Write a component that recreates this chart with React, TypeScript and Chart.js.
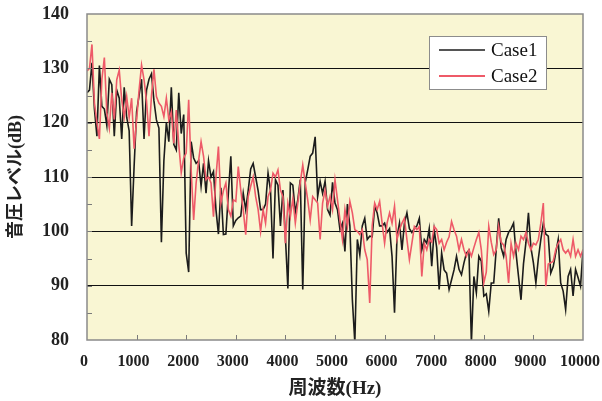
import React, { useEffect, useRef } from "react";
import { Chart, registerables } from "chart.js";

Chart.register(...registerables);

// Frequency spacing of the samples (Hz)
const FREQ_STEP = 50;

// Case1 sound pressure level (dB), 0 .. 10000 Hz every 50 Hz
const CASE1 = [
  125.5, 126, 131, 122.5, 117.5, 130.5, 123, 122.5, 119.5, 128,
  127, 117.5, 126, 124.5, 117, 126.5, 121, 118.5, 101, 112,
  122, 125, 128, 117, 126, 128, 129, 124, 120.5, 119,
  98, 113, 120, 116.5, 126.5, 116, 115, 125.5, 118, 121.5,
  96, 92.5, 116.5, 113.5, 112.5, 113, 108.3, 112.5, 107, 113,
  110, 111, 104, 99.5, 108, 99.4, 99.5, 107, 113.8, 101,
  102, 102.5, 102.8, 107, 104, 107.5, 111.5, 112.5, 110, 107.5,
  104, 104, 105, 110.7, 107.5, 95, 109.5, 108.5, 101, 107.6,
  99, 89.5, 108.9, 108.5, 103.5, 105.8, 109.5, 89.3, 109, 111.3,
  113.8, 114.4, 117.4, 106.4, 109.2, 107, 109.2, 104, 103, 109,
  105.2, 104, 100.3, 101.5, 96.3, 105, 101, 87.4, 79.5, 98.5,
  95.7, 101, 102.4, 98.5, 99.1, 99, 104.6, 103.4, 101, 101,
  101.5, 99.8, 100.5, 95.4, 85, 99, 101.5, 96.6, 101.5, 103.4,
  100.5, 99.8, 100.5, 101, 102.4, 96.6, 98.5, 97.8, 100.5, 93.6,
  100.3, 97, 89.3, 96, 92.9, 92.3, 89.3, 91.1, 92.9, 95.4,
  93, 92, 94.2, 96, 96.5, 79.5, 91.7, 88.7, 95.4, 94.5,
  88.1, 88.5, 85.3, 90.5, 90.5, 96.6, 102.4, 97, 95.4, 98.5,
  99.8, 100.5, 101.5, 96, 91.7, 87.4, 94, 98, 103.4, 97,
  94.2, 90.5, 95, 98.5, 101.5, 99.5, 99.1, 92.3, 93.5, 96,
  98.5, 90.5, 89, 85.6, 91.7, 93, 88.1, 93, 91.5, 89.9,
  96.6,
];

// Case2 sound pressure level (dB), 0 .. 10000 Hz every 50 Hz
const CASE2 = [
  129.5, 130, 134.4, 123.6, 120, 117, 128, 132, 121.8, 119,
  125.5, 120.6, 127.9, 129.7, 124.2, 121, 124.8, 121, 124.5, 115.2,
  120.5, 126, 130.6, 127.9, 124, 117.5, 125, 129.8, 124.8, 123.6,
  123, 121.1, 124.5, 120.5, 122, 116.2, 122.3, 116, 110.8, 113.5,
  114.4, 124.2, 111.3, 102.1, 108.9, 113, 116.5, 113.8, 109.5, 110,
  108.9, 102.7, 110, 115.6, 105.2, 107.5, 108.9, 104, 102.8, 105.8,
  105.5, 111.9, 107.6, 104, 99.4, 106.4, 108.3, 110, 106.4, 104,
  100, 104, 101.5, 106.4, 107.6, 110.7, 110, 111.3, 107.6, 106.4,
  97.8, 105.2, 102.7, 106, 101.5, 105.2, 109, 112.2, 108.9, 105.8,
  102.1, 106.4, 105.8, 105.2, 98.5, 105.2, 107.6, 104.6, 106.4, 104,
  109.5, 105.8, 102.1, 98.5, 104, 100.9, 105.5, 103.4, 100.3, 100,
  99.4, 100.3, 96.6, 94.8, 86.8, 101, 105.2, 104, 105.5, 101.5,
  97.8, 101.5, 103.4, 101.5, 104.6, 98.5, 100.3, 101.5, 102.4, 98.5,
  94.8, 97.8, 100.9, 100.3, 100.9, 91.7, 97.8, 96.6, 98.5, 98,
  100.9, 100.3, 97.8, 98.5, 96.6, 98, 99, 101.8, 100.3, 99.1,
  96.6, 98.5, 96.6, 95.4, 96.6, 95.4, 97, 98.5, 99.8, 96.6,
  90.5, 92.5, 100.9, 98, 95.7, 96.6, 100.9, 98, 97.5, 95.4,
  90.5, 97.8, 95.4, 97.8, 96.6, 99.1, 98.5, 99.8, 97.8, 96.6,
  97.8, 97.5, 98.5, 101.5, 105.2, 89.9, 94, 94.2, 94.5, 96.6,
  97.8, 98.5, 96.6, 96, 96.6, 95.4, 98.5, 95.4, 96.6, 95.4,
  96.6,
];

const SERIES_NAMES = ["Case1", "Case2"];
const SERIES_COLORS = ["#1c1c1c", "#ee5a68"];
const X_MIN = 0;
const X_MAX = 10000;
const X_STEP = 1000;
const Y_MIN = 80;
const Y_MAX = 140;
const Y_MAJOR = 10;
const Y_MINOR = 5;
const X_TITLE = "周波数(Hz)";
const Y_TITLE = "音圧レベル(dB)";

const SERIF = "'Liberation Serif', 'Times New Roman', serif";
const TITLE_FONT = "'Liberation Serif', 'Noto Sans CJK JP', serif";

function zeroPad(scale: any) {
  scale.paddingTop = 0;
  scale.paddingBottom = 0;
  scale.paddingLeft = 0;
  scale.paddingRight = 0;
}

export default function App() {
  const ref = useRef<HTMLCanvasElement | null>(null);

  useEffect(() => {
    document.body.style.margin = "0";
    const canvas = ref.current;
    if (!canvas) return;

    const toPts = (arr: number[]) => arr.map((v, i) => ({ x: i * FREQ_STEP, y: v }));

    const deco = {
      id: "deco",
      beforeDraw(chart: any) {
        const { ctx, chartArea: a } = chart;
        ctx.save();
        ctx.fillStyle = "#f9f6d3";
        ctx.fillRect(a.left, a.top, a.right - a.left, a.bottom - a.top);
        ctx.restore();
      },
      afterDraw(chart: any) {
        const { ctx, chartArea: a, scales } = chart;
        const xs = scales.x;
        const ys = scales.y;
        ctx.save();
        // inner ticks
        ctx.strokeStyle = "#7a7a7a";
        ctx.lineWidth = 1;
        ctx.beginPath();
        for (let v = Y_MIN + Y_MINOR; v < Y_MAX; v += Y_MINOR) {
          const y = Math.round(ys.getPixelForValue(v)) + 0.5;
          ctx.moveTo(a.left, y);
          ctx.lineTo(a.left + 5, y);
        }
        for (let v = X_MIN + X_STEP; v < X_MAX; v += X_STEP) {
          const x = Math.round(xs.getPixelForValue(v)) + 0.5;
          ctx.moveTo(x, a.bottom);
          ctx.lineTo(x, a.bottom - 5);
        }
        ctx.stroke();
        // border
        ctx.strokeStyle = "#8a8a8a";
        ctx.lineWidth = 1.5;
        ctx.strokeRect(a.left, a.top, a.right - a.left, a.bottom - a.top);

        // legend
        const bx = 429, by = 36, bw = 117, bh = 53;
        ctx.fillStyle = "#ffffff";
        ctx.fillRect(bx, by, bw, bh);
        ctx.strokeStyle = "#8c8c8c";
        ctx.lineWidth = 1;
        ctx.strokeRect(bx + 0.5, by + 0.5, bw, bh);
        ctx.font = `19px ${SERIF}`;
        ctx.textBaseline = "middle";
        ctx.textAlign = "left";
        const rows = [50, 76];
        chart.data.datasets.forEach((ds: any, i: number) => {
          const y = rows[i];
          ctx.strokeStyle = ds.borderColor;
          ctx.lineWidth = i === 0 ? 1.6 : 2.2;
          ctx.beginPath();
          ctx.moveTo(439, y);
          ctx.lineTo(485, y);
          ctx.stroke();
          ctx.fillStyle = "#111";
          ctx.fillText(ds.label, 491, y + 1);
        });
        ctx.restore();
      },
    };

    const chart = new Chart(canvas, {
      type: "line",
      data: {
        datasets: [
          {
            label: SERIES_NAMES[0],
            data: toPts(CASE1),
            borderColor: SERIES_COLORS[0],
            borderWidth: 1.6,
            pointRadius: 0,
            tension: 0,
            order: 1,
          },
          {
            label: SERIES_NAMES[1],
            data: toPts(CASE2),
            borderColor: SERIES_COLORS[1],
            borderWidth: 1.6,
            pointRadius: 0,
            tension: 0,
            order: 0,
          },
        ],
      },
      plugins: [deco],
      options: {
        responsive: false,
        animation: false,
        events: [],
        layout: { padding: { top: 14, right: 19, bottom: 0, left: 0 } },
        plugins: {
          legend: { display: false },
          tooltip: { enabled: false },
        },
        scales: {
          x: {
            type: "linear",
            min: X_MIN,
            max: X_MAX,
            afterFit(scale: any) {
              scale.height = 61;
              zeroPad(scale);
            },
            border: { display: false },
            grid: { display: false, drawTicks: false },
            ticks: {
              stepSize: X_STEP,
              padding: 12,
              labelOffset: -3,
              maxRotation: 0,
              autoSkip: false,
              color: "#222",
              font: { family: SERIF, size: 16, weight: "bold" },
              callback: (v: any) => String(v),
            },
            title: {
              display: true,
              text: X_TITLE,
              color: "#222",
              font: { family: TITLE_FONT, size: 19, weight: "bold" },
              padding: { top: 0, bottom: 1 },
            },
          },
          y: {
            type: "linear",
            min: Y_MIN,
            max: Y_MAX,
            afterFit(scale: any) {
              scale.width = 87;
              zeroPad(scale);
            },
            border: { display: false },
            grid: {
              drawTicks: false,
              lineWidth: 1,
              color: (c: any) => {
                const v = c.tick && c.tick.value;
                return v % Y_MAJOR === 0 && v > Y_MIN && v < Y_MAX ? "#111" : "rgba(0,0,0,0)";
              },
            },
            ticks: {
              stepSize: Y_MINOR,
              padding: 18,
              autoSkip: false,
              color: "#222",
              font: { family: SERIF, size: 18, weight: "bold" },
              callback: (v: any) => (Number(v) % Y_MAJOR === 0 ? String(v) : ""),
            },
            title: {
              display: true,
              text: Y_TITLE,
              color: "#222",
              font: { family: TITLE_FONT, size: 18, weight: "bold" },
              padding: { top: 6, bottom: 0 },
            },
          },
        },
      },
    });

    return () => chart.destroy();
  }, []);

  return (
    <div style={{ width: 602, height: 401 }}>
      <canvas ref={ref} width={602} height={401} style={{ display: "block" }} />
    </div>
  );
}
